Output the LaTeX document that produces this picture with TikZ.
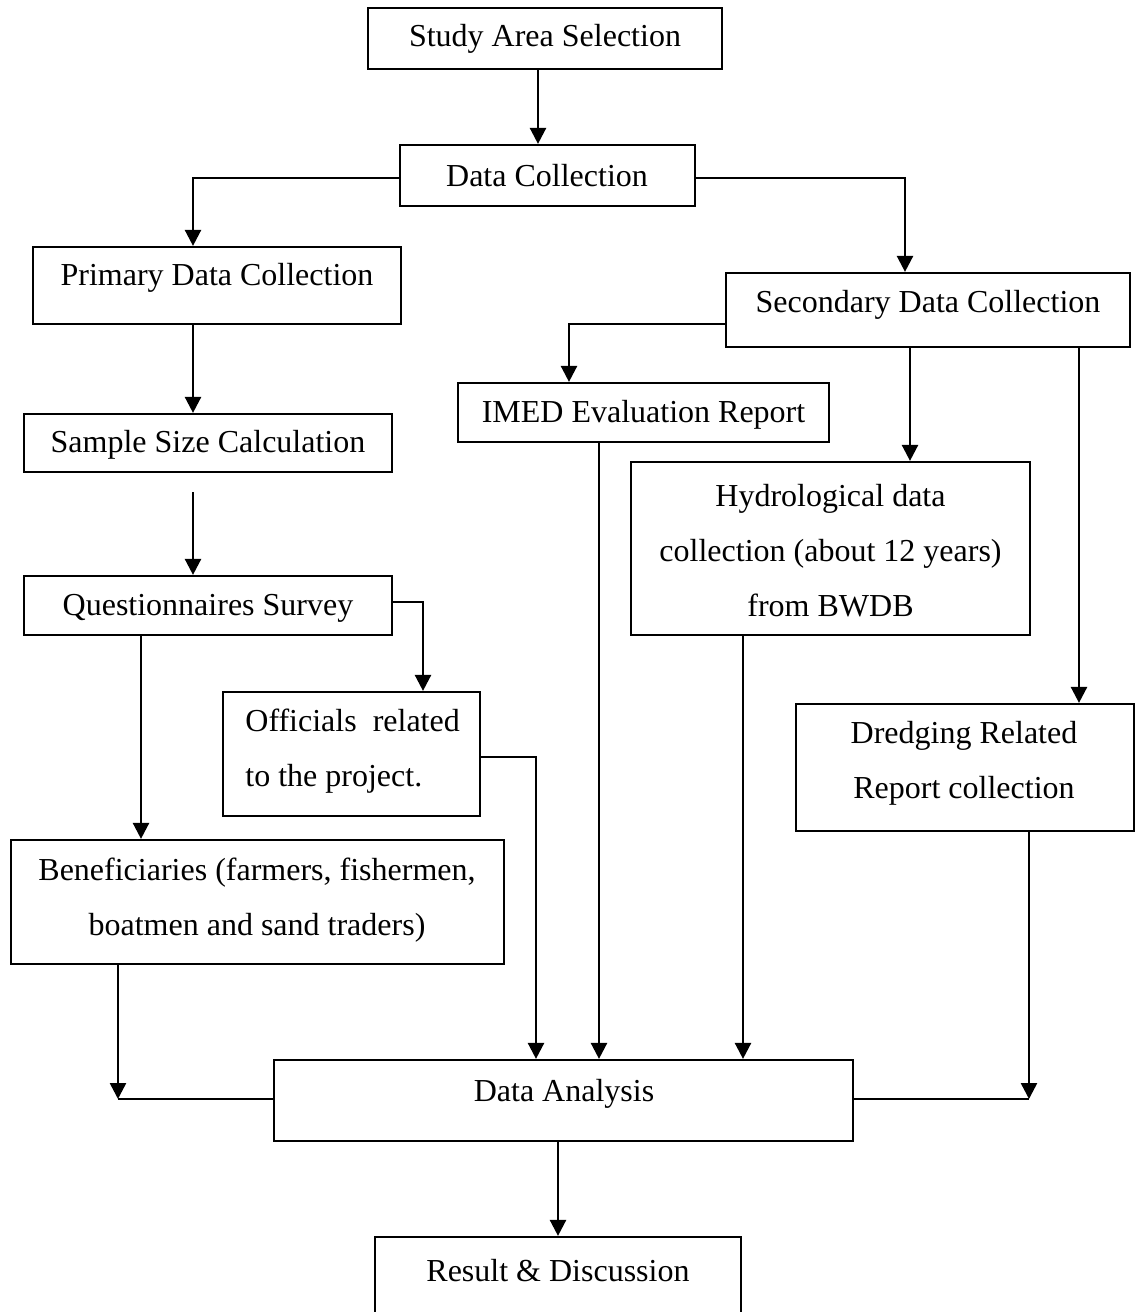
\documentclass[tikz,border=0pt]{standalone}
\usepackage{fontspec}
\setmainfont{Liberation Serif}
\usetikzlibrary{arrows.meta}
\begin{document}
\begin{tikzpicture}[x=0.5pt,y=-0.5pt,
  box/.style={draw,line width=1.1pt,inner sep=0pt,rectangle},
  txt/.style={inner sep=0pt,font=\fontsize{16}{27.5}\selectfont,align=center},
  conn/.style={line width=1.25pt},
  arr/.style={conn,-{Triangle[width=8pt,length=8pt]}}]
\useasboundingbox (0,0) rectangle (1135,1312);

% boxes
\node[box,minimum width=177pt,minimum height=30.5pt] (study) at (545,38.5) {};
\node[box,minimum width=147.5pt,minimum height=30.5pt] (datacol) at (547.5,175.5) {};
\node[box,minimum width=184pt,minimum height=38.5pt] (primary) at (217,285.5) {};
\node[box,minimum width=202pt,minimum height=37pt] (secondary) at (928,310) {};
\node[box,minimum width=185.5pt,minimum height=29.5pt] (imed) at (643.5,412.5) {};
\node[box,minimum width=184pt,minimum height=29pt] (sample) at (208,443) {};
\node[box,minimum width=199.5pt,minimum height=86.5pt] (hydro) at (830.5,548.5) {};
\node[box,minimum width=184pt,minimum height=29.5pt] (quest) at (208,605.5) {};
\node[box,minimum width=128.5pt,minimum height=62pt] (officials) at (351.5,754) {};
\node[box,minimum width=169pt,minimum height=63.5pt] (dredging) at (965,767.5) {};
\node[box,minimum width=246.5pt,minimum height=62pt] (benef) at (257.5,902) {};
\node[box,minimum width=289.5pt,minimum height=40.5pt] (analysis) at (563.5,1100.5) {};
\node[box,minimum width=183pt,minimum height=51.5pt] (result) at (558,1288.5) {};

% texts
\node[txt] (studyT) at (545,39) {Study Area Selection};
\node[txt] (datacolT) at (547,176) {Data Collection};
\node[txt] (primaryT) at (217,278) {Primary Data Collection};
\node[txt] (secondaryT) at (928,305) {Secondary Data Collection};
\node[txt] (imedT) at (643.5,415) {IMED Evaluation Report};
\node[txt] (sampleT) at (208,445) {Sample Size Calculation};
\node[txt] (hydroT) at (830.5,551) {Hydrological data\\collection (about 12 years)\\from BWDB};
\node[txt] (questT) at (208,608) {Questionnaires Survey};
\node[txt,anchor=west,align=left] (officialsT) at (245,751) {Officials\ \ related\\to the project.};
\node[txt] (dredgingT) at (964,763) {Dredging Related\\Report collection};
\node[txt] (benefT) at (257,900) {Beneficiaries (farmers, fishermen,\\boatmen and sand traders)};
\node[txt] (analysisT) at (564,1094) {Data Analysis};
\node[txt] (resultT) at (558,1271) {Result \& Discussion};

% routing coordinates
\coordinate (kA) at (538,0);
\coordinate (kDL) at (193,178);
\coordinate (kDR) at (905,178);
\coordinate (kS) at (193,492);
\coordinate (kQ) at (423,602);
\coordinate (kQB) at (141,0);
\coordinate (kSI) at (569,324);
\coordinate (kSH) at (910,0);
\coordinate (kSD) at (1079,0);
\coordinate (kO) at (536,757);
\coordinate (kI) at (599,0);
\coordinate (kH) at (743,0);
\coordinate (kB) at (118,1099);
\coordinate (kD) at (1029,1099);
\coordinate (kR) at (558,0);

% connectors
\draw[arr] (study.south -| kA) -- (datacol.north -| kA);
\draw[arr] (datacol.west |- kDL) -- (kDL) -- (primary.north -| kDL);
\draw[arr] (datacol.east |- kDR) -- (kDR) -- (secondary.north -| kDR);
\draw[arr] (primary.south -| kDL) -- (sample.north -| kDL);
\draw[arr] (kS) -- (quest.north -| kS);
\draw[arr] (quest.east |- kQ) -- (kQ) -- (officials.north -| kQ);
\draw[arr] (quest.south -| kQB) -- (benef.north -| kQB);
\draw[arr] (secondary.west |- kSI) -- (kSI) -- (imed.north -| kSI);
\draw[arr] (secondary.south -| kSH) -- (hydro.north -| kSH);
\draw[arr] (secondary.south -| kSD) -- (dredging.north -| kSD);
\draw[arr] (officials.east |- kO) -- (kO) -- (analysis.north -| kO);
\draw[arr] (imed.south -| kI) -- (analysis.north -| kI);
\draw[arr] (hydro.south -| kH) -- (analysis.north -| kH);
\draw[arr] (benef.south -| kB) -- (kB);
\draw[conn] (analysis.west |- kB) -- (kB);
\draw[arr] (dredging.south -| kD) -- (kD);
\draw[conn] (analysis.east |- kD) -- (kD);
\draw[arr] (analysis.south -| kR) -- (result.north -| kR);
\end{tikzpicture}
\end{document}
